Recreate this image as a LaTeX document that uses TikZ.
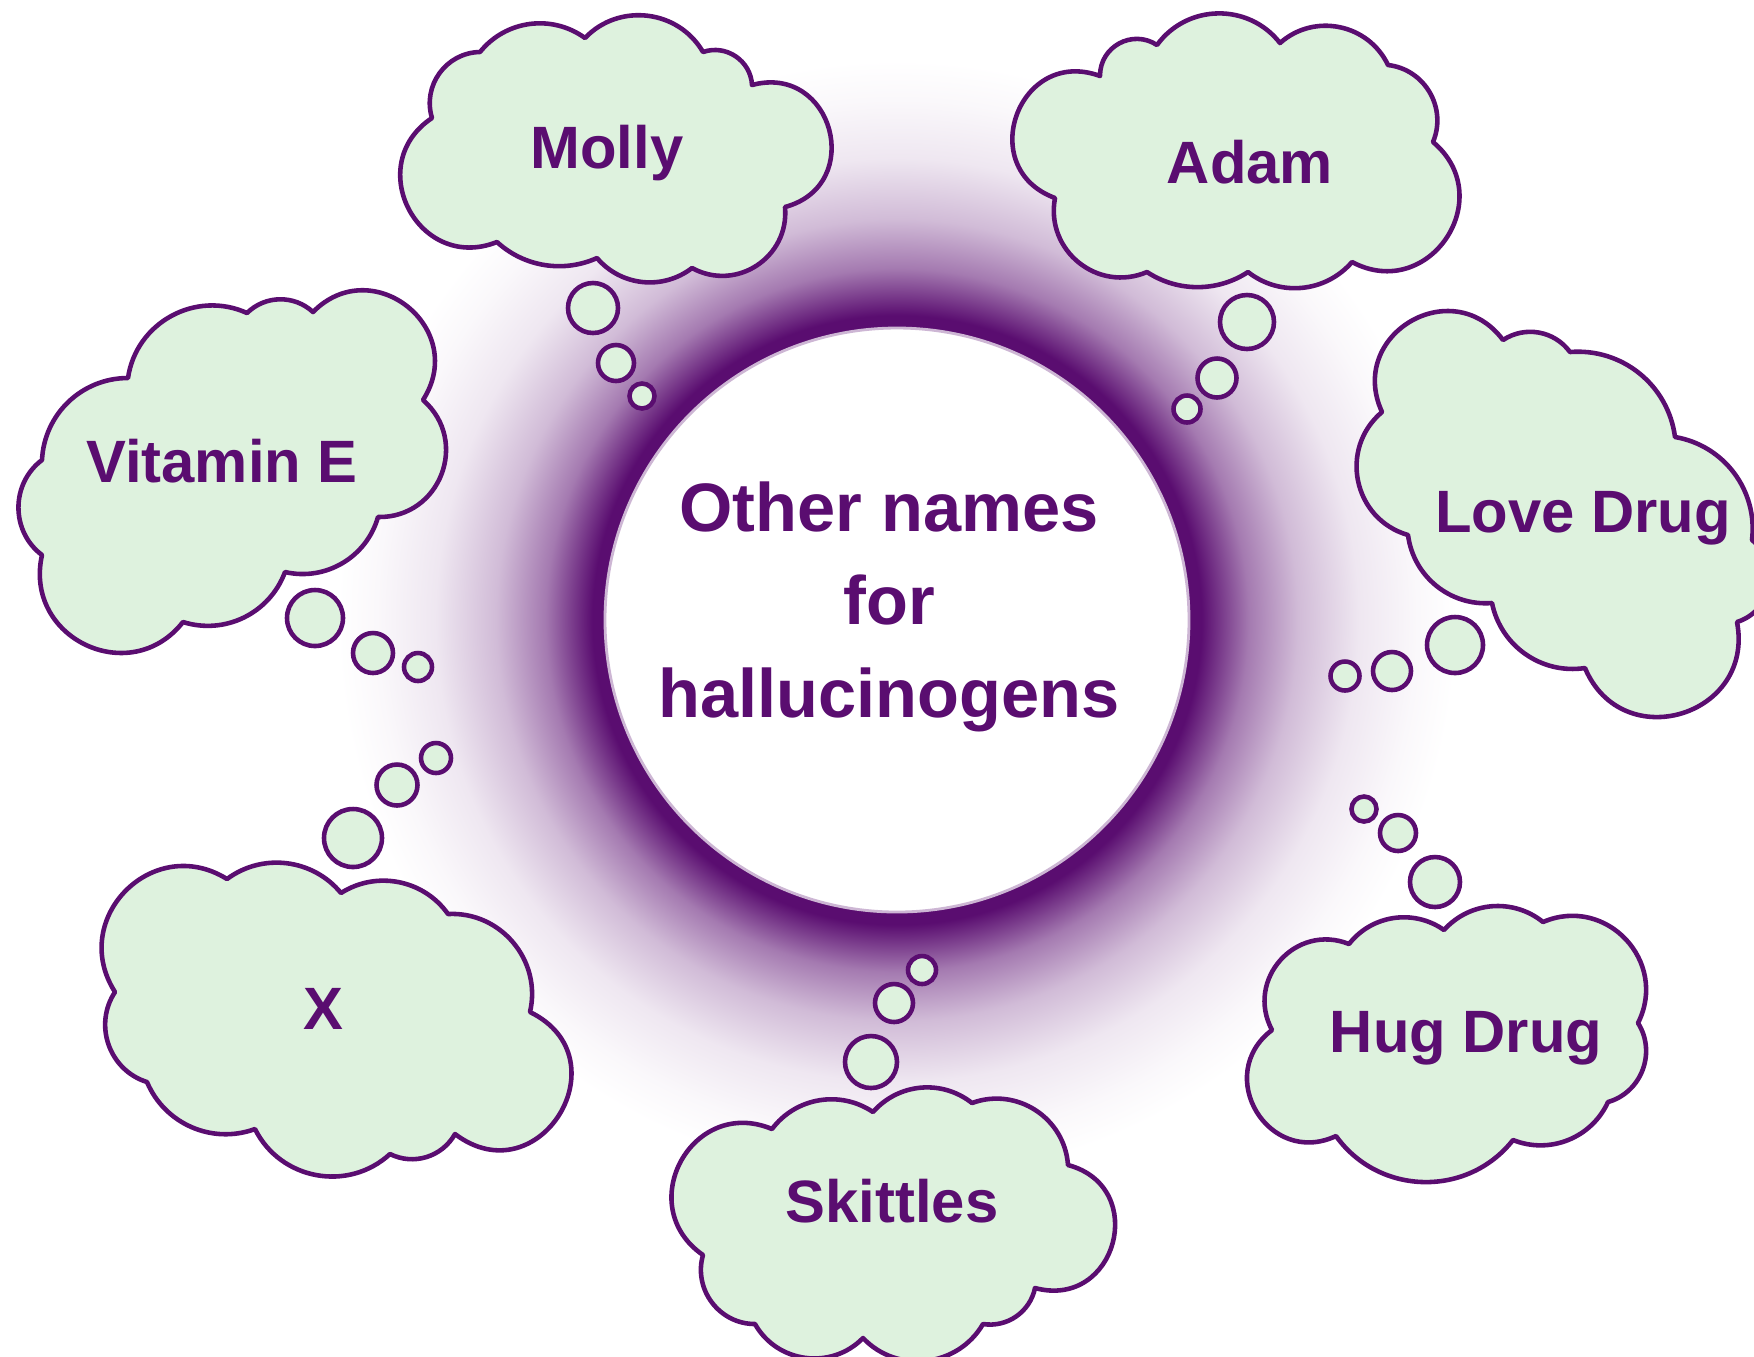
\documentclass[tikz,border=0pt]{standalone}
\usepackage{fontspec}
\setmainfont{Liberation Sans}
\definecolor{pdark}{HTML}{5A0D70}
\definecolor{cloudfill}{HTML}{DEF2DE}
\colorlet{g55}{pdark!55!white}
\colorlet{g28}{pdark!28!white}
\colorlet{g10}{pdark!10!white}
\colorlet{g03}{pdark!3!white}
\pgfdeclareradialshading{glow}{\pgfpoint{0bp}{0bp}}{%
  color(0bp)=(pdark); color(13.0bp)=(pdark); color(13.6bp)=(pdark);
  color(15.7bp)=(g55); color(17.9bp)=(g28); color(20.6bp)=(g10);
  color(23.2bp)=(g03); color(25bp)=(white); color(50bp)=(white)}
\tikzset{
  h15/.style={bend left=33.4,looseness=0.93},
  h20/.style={bend left=43.6,looseness=0.99},
  h25/.style={bend left=53.1,looseness=1.06},
  h30/.style={bend left=61.9,looseness=1.16},
  h35/.style={bend left=70,looseness=1.27},
  h40/.style={bend left=77.3,looseness=1.40},
  h45/.style={bend left=84,looseness=1.54},
  h50/.style={bend left=90,looseness=1.70},
  h55/.style={bend left=95.5,looseness=1.88},
  cloudshape/.style={draw=pdark,fill=cloudfill,line width=1.3pt,line join=round},
  bubble/.style={draw=pdark,fill=cloudfill,line width=1.3pt},
  lbl/.style={text=pdark,font=\fontsize{17}{20}\selectfont\bfseries,anchor=base,inner sep=0pt},
  ctr/.style={text=pdark,font=\fontsize{19.5}{26.5}\selectfont\bfseries,align=center,inner sep=0pt}
}
\begin{document}
\begin{tikzpicture}[x=0.01cm,y=-0.01cm]
\useasboundingbox (0,0) rectangle (1754,1356);
\clip (0,0) rectangle (1754,1356);
\fill[white] (0,0) rectangle (1754,1356);
% glow
\shade[shading=glow] (897,620) circle (560);
\draw[fill=white,draw=pdark!30,line width=0.8pt] (897,620) circle (292);
\node[ctr] (title) at (889,607) {Other names\\for\\hallucinogens};

% Molly
\draw[cloudshape] (432,118) to[h25] (480,52) to[h20] (585,38) to[h25] (703,52) to[h25] (752,85) to[h50] (785,207) to[h30] (692,268) to[h20] (597,258) to[h15] (497,242) to[h45] (432,118) -- cycle;
\draw[bubble] (593,308) circle (25);
\draw[bubble] (616,363) circle (18);
\draw[bubble] (642,396) circle (12.5);
\node[lbl] (molly) at (607,168) {Molly};

% Adam
\draw[cloudshape] (1055,198) to[h50] (1100,76) to[h30] (1157,45) to[h25] (1280,43) to[h25] (1388,65) to[h25] (1433,142) to[h45] (1352,262) to[h20] (1248,272) to[h15] (1147,272) to[h30] (1055,198) -- cycle;
\draw[bubble] (1247,322) circle (27);
\draw[bubble] (1217,378) circle (19.5);
\draw[bubble] (1187,409) circle (13.5);
\node[lbl] (adam) at (1250,183) {Adam};

% Vitamin E
\draw[cloudshape] (42,460) to[h20] (128,378) to[h25] (247,313) to[h20] (313,312) to[h45] (423,400) to[h35] (378,517) to[h20] (285,572) to[h20] (183,622) to[h40] (42,555) to[h25] (42,460) -- cycle;
\draw[bubble] (315,618) circle (28);
\draw[bubble] (373,653) circle (20);
\draw[bubble] (418,667) circle (14);
\node[lbl] (vitamine) at (222,482) {Vitamin E};

% Love Drug
\draw[cloudshape] (1382,412) to[h45] (1503,340) to[h20] (1570,352) to[h20] (1675,437) to[h20] (1752,540) to[h30] (1737,622) to[h45] (1585,668) to[h20] (1492,603) to[h20] (1408,535) to[h30] (1382,412) -- cycle;
\draw[bubble] (1455,645) circle (28);
\draw[bubble] (1392,671) circle (19);
\draw[bubble] (1345,676) circle (14.5);
\node[lbl] (lovedrug) at (1583,532) {Love Drug};

% X
\draw[cloudshape] (115,992) to[h40] (227,879) to[h20] (341,893) to[h20] (448,914) to[h25] (530,1012) to[h55] (455,1134) to[h20] (390,1154) to[h25] (255,1129) to[h20] (147,1082) to[h25] (115,992) -- cycle;
\draw[bubble] (353,838) circle (29);
\draw[bubble] (397,785) circle (20.5);
\draw[bubble] (436,758) circle (15);
\node[lbl] (x) at (323,1029) {X};

% Skittles
\draw[cloudshape] (703,1255) to[h45] (772,1129) to[h20] (873,1112) to[h20] (972,1103) to[h25] (1068,1165) to[h50] (1035,1288) to[h20] (983,1324) to[h25] (863,1338) to[h25] (755,1324) to[h25] (703,1255) -- cycle;
\draw[bubble] (871,1062) circle (26);
\draw[bubble] (894,1003) circle (19);
\draw[bubble] (922,970) circle (14);
\node[lbl] (skittles) at (892,1222) {Skittles};

% Hug Drug
\draw[cloudshape] (1272,1030) to[h35] (1349,944) to[h20] (1444,930) to[h20] (1543,922) to[h35] (1638,1023) to[h25] (1608,1102) to[h20] (1513,1140) to[h25] (1336,1136) to[h45] (1272,1030) -- cycle;
\draw[bubble] (1435,882) circle (25);
\draw[bubble] (1398,833) circle (18);
\draw[bubble] (1364,809) circle (12.5);
\node[lbl] (hugdrug) at (1466,1052) {Hug Drug};
\end{tikzpicture}
\end{document}
